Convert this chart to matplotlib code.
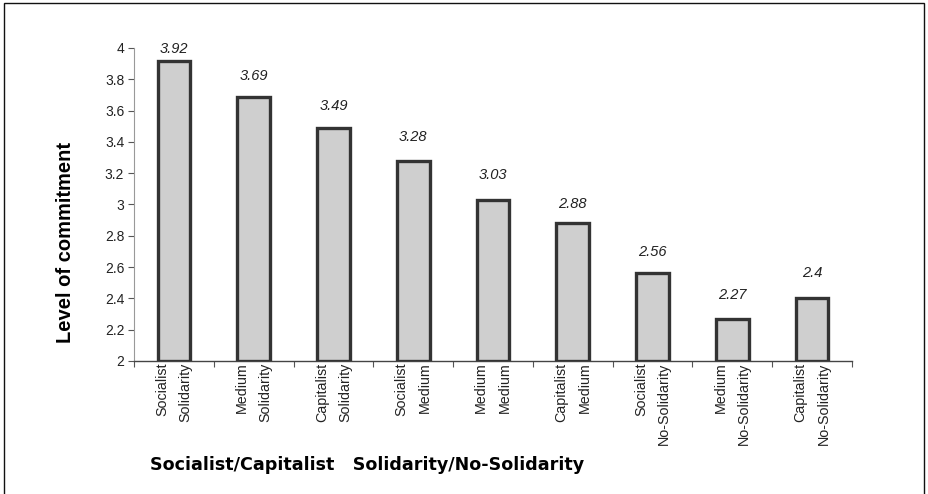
import matplotlib
matplotlib.use("Agg")
import matplotlib.pyplot as plt
import numpy as np
from matplotlib.patches import Rectangle
from matplotlib.ticker import FuncFormatter, MultipleLocator

# data
categories = ["Socialist\nSolidarity", "Medium\nSolidarity", "Capitalist\nSolidarity",
              "Socialist\nMedium", "Medium\nMedium", "Capitalist\nMedium",
              "Socialist\nNo-Solidarity", "Medium\nNo-Solidarity", "Capitalist\nNo-Solidarity"]
values = [3.92, 3.69, 3.49, 3.28, 3.03, 2.88, 2.56, 2.27, 2.4]
value_labels = ["3.92", "3.69", "3.49", "3.28", "3.03", "2.88", "2.56", "2.27", "2.4"]

# label gaps above each bar (pixels), as placed in the original
label_gap_px = [12, 21, 22, 24, 25, 19, 21, 24, 25]

plt.rcParams['font.family'] = ['Liberation Sans', 'DejaVu Sans']

fig = plt.figure(figsize=(9.29, 4.94), dpi=100)
ax = fig.add_axes([134/929, 1-361/494, (852-134)/929, (361-48)/494])

x = np.arange(len(values))
ax.bar(x, np.array(values) - 2, bottom=2, width=0.41, color='#cfcfcf',
       edgecolor='#333333', linewidth=2.4, zorder=3)

for xi, v, lab, gap in zip(x, values, value_labels, label_gap_px):
    ax.annotate(lab, xy=(xi, v), xytext=(0, gap*0.72), textcoords='offset points',
                ha='center', va='center', fontsize=10.5, style='italic', color='#222222')

ax.set_xlim(-0.5, len(values) - 0.5)
ax.set_ylim(2, 4)
ax.yaxis.set_major_locator(MultipleLocator(0.2))
ax.yaxis.set_major_formatter(FuncFormatter(lambda v, p: ("%.1f" % v).rstrip('0').rstrip('.')))
ax.tick_params(axis='y', labelsize=10, length=4, width=0.8, color='#555555', pad=3, labelcolor='#222222')

# category labels in the centre, boundary ticks as minor ticks
ax.set_xticks(x)
ax.set_xticklabels(categories, rotation=90, fontsize=10.3, va='top', ha='center',
                   multialignment='right', linespacing=1.85, color='#222222')
ax.set_xticks(np.arange(-0.5, len(values), 1.0), minor=True)
ax.tick_params(axis='x', which='major', length=0, pad=1)
ax.tick_params(axis='x', which='minor', length=4, width=0.8, color='#555555')

for s in ['top', 'right']:
    ax.spines[s].set_visible(False)
ax.spines['left'].set_color('#999999')
ax.spines['bottom'].set_color('#444444')
ax.spines['left'].set_linewidth(0.8)
ax.spines['bottom'].set_linewidth(1.0)

ax.set_ylabel("Level of commitment", fontsize=14.5, fontweight='bold')
ax.yaxis.set_label_coords(-0.082, 0.38)

fig.text(150/929, 1-465/494, "Socialist/Capitalist   Solidarity/No-Solidarity",
         fontsize=12.6, fontweight='bold', family='DejaVu Sans', va='center', ha='left')

# outer frame around the chart area
fig.patches.append(Rectangle((4/929, -0.05), 920/929, 1.05 - 3/494, transform=fig.transFigure,
                             fill=False, edgecolor='#111111', linewidth=1.0))

fig.savefig("out.png", dpi=100)
